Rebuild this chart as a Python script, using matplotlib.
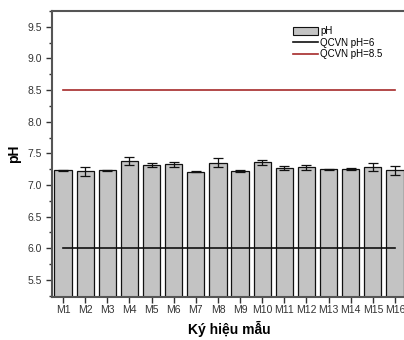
import matplotlib
matplotlib.use("Agg")
import matplotlib.pyplot as plt
from matplotlib.ticker import MultipleLocator
from matplotlib.patches import Patch
from matplotlib.lines import Line2D

plt.rcParams['font.family'] = ['Liberation Sans', 'DejaVu Sans']

samples = ["M1", "M2", "M3", "M4", "M5", "M6", "M7", "M8",
           "M9", "M10", "M11", "M12", "M13", "M14", "M15", "M16"]
ph_values = [7.23, 7.22, 7.23, 7.375, 7.32, 7.33, 7.21, 7.35,
             7.22, 7.36, 7.27, 7.28, 7.25, 7.255, 7.28, 7.23]
ph_errors = [0.01, 0.07, 0.01, 0.06, 0.03, 0.04, 0.01, 0.07,
             0.01, 0.04, 0.03, 0.04, 0.01, 0.01, 0.06, 0.07]
qcvn_low = 6.0
qcvn_high = 8.5

fig = plt.figure(figsize=(4.04, 3.4), dpi=100)
ax = fig.add_axes([52/404, 43/340, 354/404, 286/340])

x = list(range(1, len(samples) + 1))
ax.bar(x, ph_values, width=0.78, bottom=0, color="#c3c3c3", edgecolor="#111111",
       linewidth=0.9, yerr=ph_errors, capsize=3.5,
       error_kw=dict(elinewidth=0.9, capthick=0.9, ecolor="#111111"))
ax.plot([x[0], x[-1]], [qcvn_low, qcvn_low], color="#111111", lw=1.2)
ax.plot([x[0], x[-1]], [qcvn_high, qcvn_high], color="#a52a2a", lw=1.2)

ax.set_xlim(0.5, 16.5)
ax.set_ylim(5.23, 9.75)
ax.set_xticks(x)
ax.set_xticklabels(samples, fontsize=7.5)
ax.yaxis.set_major_locator(MultipleLocator(0.5))
ax.yaxis.set_minor_locator(MultipleLocator(0.25))
ax.yaxis.set_major_formatter(matplotlib.ticker.FormatStrFormatter('%.1f'))
ax.tick_params(axis='y', labelsize=7.5, direction='out', length=4, width=1, colors='#333333', labelcolor='#333333')
ax.tick_params(axis='y', which='minor', length=2.5, width=1, colors='#333333')
ax.tick_params(axis='x', direction='out', length=4, width=1, colors='#333333', labelcolor='#333333', pad=2)
for s in ax.spines.values():
    s.set_linewidth(1.5)
    s.set_color('#555555')

ax.set_ylabel("pH", fontsize=10, fontweight='bold', labelpad=4)
ax.set_xlabel("Ký hiệu mẫu", fontsize=10, fontweight='bold', labelpad=4)

handles = [Patch(facecolor="#c3c3c3", edgecolor="#111111", linewidth=0.8),
           Line2D([], [], color="#111111", lw=1.2),
           Line2D([], [], color="#a52a2a", lw=1.2)]
ax.legend(handles, ["pH", "QCVN pH=6", "QCVN pH=8.5"], loc='upper left',
          bbox_to_anchor=(0.67, 0.96), frameon=False, fontsize=7,
          handlelength=2.6, handleheight=0.9, labelspacing=0.15,
          handletextpad=0.2, borderaxespad=0)

fig.savefig("out.png", dpi=100)
